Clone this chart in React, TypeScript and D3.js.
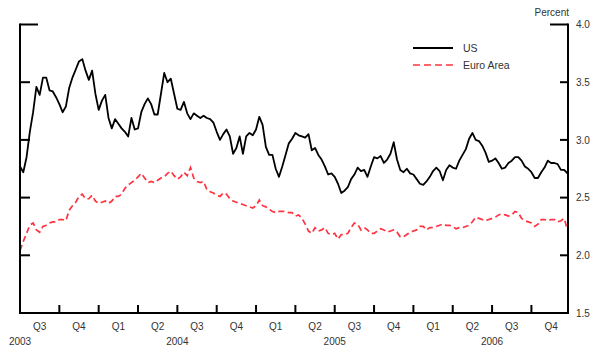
import React from "react";
import * as d3 from "d3";

// Weekly-ish readings (12 per quarter), starting 1 July 2003
const usValues: number[] = [
  2.77, 2.72, 2.85, 3.07, 3.24, 3.46, 3.39, 3.54, 3.54, 3.43, 3.42, 3.37,
  3.31, 3.24, 3.29, 3.45, 3.54, 3.61, 3.68, 3.70, 3.60, 3.52, 3.60, 3.40,
  3.26, 3.34, 3.39, 3.19, 3.10, 3.18, 3.14, 3.10, 3.07, 3.03, 3.19, 3.09,
  3.10, 3.24, 3.31, 3.36, 3.31, 3.22, 3.22, 3.40, 3.58, 3.50, 3.53, 3.40,
  3.27, 3.26, 3.33, 3.23, 3.18, 3.23, 3.21, 3.19, 3.21, 3.19, 3.18, 3.15,
  3.07, 3.00, 3.05, 3.09, 3.03, 2.88, 2.93, 3.03, 2.88, 3.03, 3.06, 3.04,
  3.09, 3.20, 3.13, 2.94, 2.87, 2.87, 2.75, 2.68, 2.77, 2.87, 2.97, 3.01,
  3.06, 3.04, 3.03, 3.02, 3.05, 2.91, 2.93, 2.87, 2.83, 2.77, 2.70, 2.71,
  2.68, 2.62, 2.54, 2.56, 2.59, 2.66, 2.70, 2.76, 2.73, 2.74, 2.68, 2.77,
  2.85, 2.84, 2.86, 2.80, 2.83, 2.88, 2.98, 2.83, 2.74, 2.72, 2.75, 2.71,
  2.70, 2.66, 2.62, 2.61, 2.64, 2.68, 2.73, 2.76, 2.73, 2.65, 2.74, 2.78,
  2.76, 2.75, 2.82, 2.87, 2.92, 3.01, 3.06, 3.00, 2.99, 2.95, 2.89, 2.81,
  2.82, 2.84, 2.80, 2.75, 2.76, 2.80, 2.82, 2.85, 2.85, 2.82, 2.77, 2.75,
  2.72, 2.67, 2.67, 2.72, 2.76, 2.82, 2.80, 2.80, 2.79, 2.74, 2.74, 2.71,
];

const euroValues: number[] = [
  2.04, 2.12, 2.19, 2.26, 2.28, 2.22, 2.20, 2.25, 2.26, 2.28, 2.29, 2.29,
  2.31, 2.31, 2.30, 2.39, 2.43, 2.46, 2.51, 2.53, 2.49, 2.49, 2.52, 2.47,
  2.45, 2.46, 2.47, 2.45, 2.47, 2.51, 2.51, 2.53, 2.58, 2.61, 2.63, 2.65,
  2.68, 2.71, 2.67, 2.63, 2.64, 2.63, 2.65, 2.67, 2.68, 2.71, 2.73, 2.69,
  2.66, 2.68, 2.72, 2.69, 2.76, 2.67, 2.64, 2.63, 2.64, 2.57, 2.55, 2.54,
  2.52, 2.51, 2.54, 2.53, 2.49, 2.47, 2.46, 2.45, 2.44, 2.43, 2.42, 2.41,
  2.43, 2.48, 2.43, 2.42, 2.40, 2.38, 2.37, 2.38, 2.38, 2.38, 2.37, 2.37,
  2.34, 2.35, 2.32, 2.27, 2.21, 2.19, 2.24, 2.21, 2.22, 2.24, 2.19, 2.18,
  2.19, 2.14, 2.18, 2.18, 2.19, 2.24, 2.28, 2.27, 2.22, 2.24, 2.22, 2.19,
  2.19, 2.21, 2.23, 2.22, 2.20, 2.21, 2.22, 2.20, 2.16, 2.16, 2.18, 2.20,
  2.21, 2.22, 2.25, 2.25, 2.22, 2.24, 2.24, 2.25, 2.26, 2.27, 2.26, 2.26,
  2.25, 2.23, 2.24, 2.24, 2.25, 2.26, 2.29, 2.33, 2.32, 2.31, 2.30, 2.31,
  2.32, 2.33, 2.35, 2.36, 2.35, 2.34, 2.35, 2.38, 2.37, 2.32, 2.30, 2.29,
  2.28, 2.25, 2.27, 2.31, 2.31, 2.30, 2.31, 2.31, 2.29, 2.30, 2.32, 2.22,
];

const POINTS_PER_QUARTER = 12;
const quarterLabels = ["Q3", "Q4", "Q1", "Q2", "Q3", "Q4", "Q1", "Q2", "Q3", "Q4", "Q1", "Q2", "Q3", "Q4"];
const yearLabels = ["2003", "2004", "2005", "2006"];
const yearQuarterPos = [0, 4, 8, 12]; // mid-year (1 July) in quarters since Jul 2003
const yTicks = [1.5, 2.0, 2.5, 3.0, 3.5, 4.0];
const seriesNames = ["US", "Euro Area"];

const W = 600;
const H = 355;
const left = 20;
const right = 568;
const top = 24.5;
const bottom = 313;

export default function App() {
  const nQuarters = 13.93;
  const x = d3.scaleLinear().domain([0, nQuarters]).range([left, right]);
  const y = d3.scaleLinear().domain([1.5, 4.0]).range([bottom, top]);

  const line = d3
    .line<number>()
    .x((_, i) => x(i / POINTS_PER_QUARTER))
    .y((d) => y(d));

  const font = "Arial, 'Liberation Sans', Helvetica, sans-serif";
  const textColor = "#333";
  const red = "#ff3340";

  const quarterTicks = d3.range(1, 14);

  return (
    <svg
      width={W}
      height={H}
      style={{ position: "absolute", left: 0, top: 0, background: "#fff" }}
      fontFamily={font}
    >
      {/* data lines */}
      <path d={line(euroValues) || ""} fill="none" stroke={red} strokeWidth={1.7} strokeDasharray="6,3.5" />
      <path d={line(usValues) || ""} fill="none" stroke="#000" strokeWidth={1.8} strokeLinejoin="round" />

      {/* frame */}
      <line x1={left} x2={left} y1={top - 1} y2={bottom + 1} stroke="#000" strokeWidth={2} />
      <line x1={right} x2={right} y1={top - 1} y2={bottom + 1} stroke="#000" strokeWidth={2} />
      <line x1={left - 1} x2={right + 1} y1={bottom} y2={bottom} stroke="#000" strokeWidth={2} />

      {/* y ticks */}
      {yTicks.map((t) => {
        const yy = y(t);
        const isTop = t === 4.0;
        return (
          <g key={t}>
            {t !== 1.5 && (
              <>
                <line x1={left} x2={left + (isTop ? 18 : 10)} y1={yy} y2={yy} stroke="#000" strokeWidth={2} />
                <line x1={right - (isTop ? 18 : 8)} x2={right} y1={yy} y2={yy} stroke="#000" strokeWidth={2} />
              </>
            )}
            <text x={576} y={yy} dy="0.36em" fontSize={10} fill={textColor}>
              {t.toFixed(1)}
            </text>
          </g>
        );
      })}
      <text x={569} y={16} fontSize={10} fill={textColor} textAnchor="end">
        Percent
      </text>

      {/* x ticks */}
      {quarterTicks.map((q) => (
        <line key={q} x1={x(q)} x2={x(q)} y1={bottom} y2={bottom - 8} stroke="#000" strokeWidth={2} />
      ))}
      {quarterLabels.map((lab, i) => (
        <text key={i} x={x(i + 0.5)} y={329.5} fontSize={10} fill={textColor} textAnchor="middle">
          {lab}
        </text>
      ))}
      {yearLabels.map((lab, i) => (
        <text key={lab} x={x(yearQuarterPos[i])} y={345} fontSize={10} fill={textColor} textAnchor="middle">
          {lab}
        </text>
      ))}

      {/* legend */}
      <line x1={413} x2={453} y1={48} y2={48} stroke="#000" strokeWidth={1.8} />
      <text x={463} y={48} dy="0.36em" fontSize={10.5} fill={textColor}>
        {seriesNames[0]}
      </text>
      <line x1={413} x2={453} y1={65} y2={65} stroke={red} strokeWidth={1.7} strokeDasharray="7,4" />
      <text x={463} y={65} dy="0.36em" fontSize={10.5} fill={textColor}>
        {seriesNames[1]}
      </text>
    </svg>
  );
}
